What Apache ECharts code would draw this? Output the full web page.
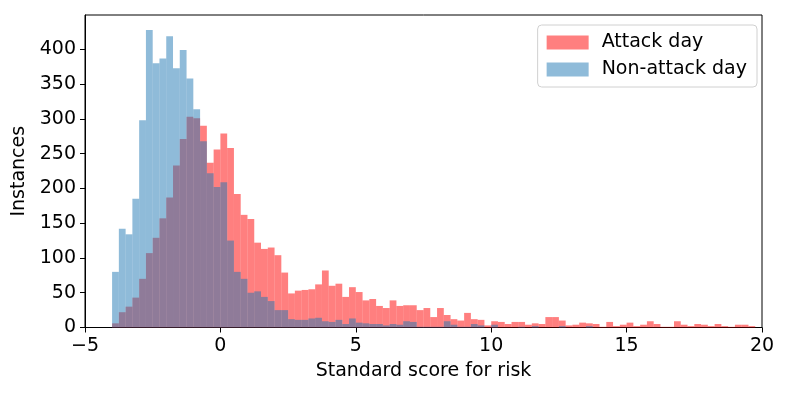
<!DOCTYPE html>
<html>
<head>
<meta charset="utf-8">
<script src="https://cdn.jsdelivr.net/npm/echarts@6/dist/echarts.min.js"></script>
<style>
  html, body { margin: 0; padding: 0; background: #fff; }
  #chart { width: 789px; height: 395px; }
</style>
</head>
<body>
<div id="chart"></div>
<script>
// histogram bins: first left edge and width
const binStart = -4
const binWidth = 0.25

// counts per bin, attack days
const attackCounts = [
  6, 22, 30, 43, 70, 107, 129, 157, 187, 233,
  271, 303, 301, 290, 237, 256, 279, 258, 192, 162,
  156, 122, 113, 115, 104, 79, 49, 53, 54, 55,
  62, 82, 60, 63, 44, 58, 51, 39, 41, 31,
  28, 39, 31, 32, 32, 25, 28, 15, 28, 18,
  12, 10, 21, 12, 11, 3, 9, 8, 5, 8,
  8, 4, 6, 5, 15, 15, 10, 3, 4, 7,
  6, 5, 1, 8, 2, 4, 7, 2, 4, 9,
  5, 1, 1, 9, 4, 2, 5, 4, 2, 5,
  2, 1, 4, 4, 2
]

// counts per bin, non-attack days
const nonAttackCounts = [
  80, 142, 134, 185, 298, 428, 380, 387, 419, 373,
  399, 358, 314, 268, 222, 202, 209, 125, 80, 70,
  50, 52, 44, 38, 25, 25, 12, 11, 11, 13,
  14, 9, 8, 11, 5, 13, 7, 6, 5, 5,
  3, 5, 4, 9, 8, 1, 1, 1, 1, 9,
  4, 1, 1, 5, 3, 0, 4, 0, 0, 0,
  1, 0, 2, 0, 0, 0, 2, 0, 0, 0,
  2
]

const seriesNames = ['Attack day', 'Non-attack day']
const xTicks = [-5, 0, 5, 10, 15, 20]
const yTicks = [0, 50, 100, 150, 200, 250, 300, 350, 400]

const FONT = 'DejaVu Sans'

function toBins(counts) {
  return counts.map((c, i) => [binStart + i * binWidth, binStart + (i + 1) * binWidth, c])
}

function renderBar(params, api) {
  const p0 = api.coord([api.value(0), api.value(2)])
  const p1 = api.coord([api.value(1), 0])
  return {
    type: 'rect',
    shape: { x: p0[0], y: p0[1], width: p1[0] - p0[0], height: p1[1] - p0[1] },
    style: api.style()
  }
}

const chart = echarts.init(document.getElementById('chart'))
chart.setOption({
  animation: false,
  textStyle: { fontFamily: FONT },
  grid: {
    left: 85, right: 27, top: 15, bottom: 67.5,
    show: true, borderColor: '#000', borderWidth: 1, backgroundColor: 'transparent'
  },
  legend: {
    data: seriesNames.map(n => ({ name: n, icon: 'rect' })),
    orient: 'vertical',
    right: 32, top: 25,
    itemWidth: 42, itemHeight: 14, itemGap: 8,
    padding: [8, 10, 8, 9],
    borderColor: '#d0d0d0', borderWidth: 1, borderRadius: 4,
    backgroundColor: 'rgba(255,255,255,0.8)',
    textStyle: { fontFamily: FONT, fontSize: 19, color: '#000', padding: [0, 0, 0, 8] }
  },
  xAxis: {
    type: 'value', min: -5, max: 20, interval: 5,
    name: 'Standard score for risk', nameLocation: 'middle', nameGap: 34,
    nameTextStyle: { fontFamily: FONT, fontSize: 19, color: '#000' },
    axisLine: { show: true, onZero: false, lineStyle: { color: '#000' } },
    axisTick: { show: true, length: 5, lineStyle: { color: '#000' }, customValues: xTicks },
    axisLabel: {
      fontFamily: FONT, fontSize: 19, color: '#000', margin: 9, customValues: xTicks,
      formatter: v => String(v).replace('-', '\u2212')
    },
    splitLine: { show: false }
  },
  yAxis: {
    type: 'value', min: 0, max: 449.4,
    name: 'Instances', nameLocation: 'middle', nameGap: 46,
    nameTextStyle: { fontFamily: FONT, fontSize: 19, color: '#000' },
    axisLine: { show: true, onZero: false, lineStyle: { color: '#000' } },
    axisTick: { show: true, length: 5, lineStyle: { color: '#000' }, customValues: yTicks },
    axisLabel: { fontFamily: FONT, fontSize: 19, color: '#000', margin: 9, customValues: yTicks },
    splitLine: { show: false }
  },
  series: [
    {
      name: seriesNames[0],
      type: 'custom',
      renderItem: renderBar,
      encode: { x: [0, 1], y: 2 },
      itemStyle: { color: 'rgba(255,0,0,0.5)' },
      data: toBins(attackCounts)
    },
    {
      name: seriesNames[1],
      type: 'custom',
      renderItem: renderBar,
      encode: { x: [0, 1], y: 2 },
      itemStyle: { color: 'rgba(31,119,180,0.5)' },
      data: toBins(nonAttackCounts)
    }
  ]
})
</script>
</body>
</html>
